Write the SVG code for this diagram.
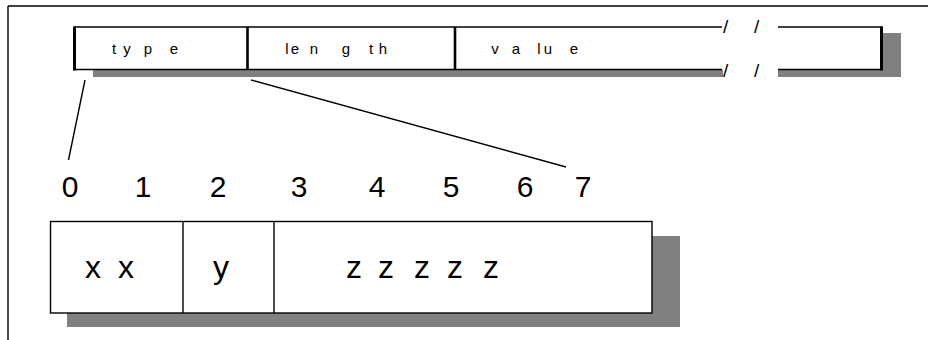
<svg xmlns="http://www.w3.org/2000/svg" width="928" height="340" viewBox="0 0 928 340">
<style>
.shadow{fill:#808080;stroke:none}
.box{fill:#fff;stroke:none}
.ln{stroke:#000;fill:none;stroke-width:1.4}
.thick{stroke:#000;fill:none;stroke-width:3}
.mid{stroke:#000;fill:none;stroke-width:2.6}
.small{font-family:"Liberation Sans",Arial,sans-serif;font-size:15px;fill:#000;text-anchor:middle}
.dig{font-family:"Liberation Sans",Arial,sans-serif;font-size:30px;fill:#000;text-anchor:middle}
.big{font-family:"Liberation Sans",Arial,sans-serif;font-size:32px;fill:#000;text-anchor:middle}
.sl{font-family:"Liberation Sans",Arial,sans-serif;font-size:19px;fill:#000}
</style>
<rect width="928" height="340" fill="#fff"/>
<g id="frame">
<line class="ln" x1="8" y1="6" x2="928" y2="6"/>
<line class="ln" x1="8" y1="6" x2="8" y2="340"/>
</g>
<g id="tlv-field">
<rect class="shadow" x="93" y="33" width="808" height="44"/>
<rect class="box" x="74" y="27" width="808" height="43"/>
<rect fill="#fff" x="723" y="69" width="55" height="10"/>
<line class="ln" x1="74" y1="27" x2="722" y2="27"/>
<line class="ln" x1="778" y1="27" x2="882" y2="27"/>
<line class="ln" x1="74" y1="69.5" x2="722" y2="69.5"/>
<line class="ln" x1="778" y1="69.5" x2="882" y2="69.5"/>
<line class="thick" x1="74.5" y1="26.5" x2="74.5" y2="70.5"/>
<line class="thick" x1="881.5" y1="26.5" x2="881.5" y2="70.5"/>
<line class="mid" x1="247.5" y1="27" x2="247.5" y2="70"/>
<line class="mid" x1="455" y1="27" x2="455" y2="70"/>
<text class="small" x="114 120 127 138 148 160 174" y="54">t y p e</text>
<text class="small" x="287 291 295 305 314 330 346 360 371 377 383" y="54">l e n g t h</text>
<text class="small" x="495 505 516 528 539 548 560 574" y="54">v a lu e</text>
<text class="sl" x="723" y="33">/</text>
<text class="sl" x="754" y="33">/</text>
<text class="sl" x="723" y="77">/</text>
<text class="sl" x="754" y="77">/</text>
</g>
<g id="bit-numbers">
<text class="dig" x="70" y="197">0</text>
<text class="dig" x="143" y="197">1</text>
<text class="dig" x="218" y="197">2</text>
<text class="dig" x="299" y="197">3</text>
<text class="dig" x="377" y="197">4</text>
<text class="dig" x="451" y="197">5</text>
<text class="dig" x="525" y="197">6</text>
<text class="dig" x="583" y="197">7</text>
</g>
<g id="byte-box">
<rect class="shadow" x="67" y="236" width="613" height="91"/>
<rect x="50.5" y="221.5" width="601.5" height="91.5" style="stroke:#000;stroke-width:1.4;fill:#fff"/>
<line class="ln" x1="183" y1="221.5" x2="183" y2="313"/>
<line class="ln" x1="274" y1="221.5" x2="274" y2="313"/>
<text class="big" x="93 110 126" y="278">x x</text>
<text class="big" x="221" y="278">y</text>
<text class="big" x="354 370 386 404 422 438 455 473 491" y="278">z z z z z</text>
</g>
<g id="connectors">
<line class="ln" x1="85" y1="80" x2="68.5" y2="160"/>
<line class="ln" x1="251" y1="80" x2="566" y2="167"/>
</g>
</svg>
